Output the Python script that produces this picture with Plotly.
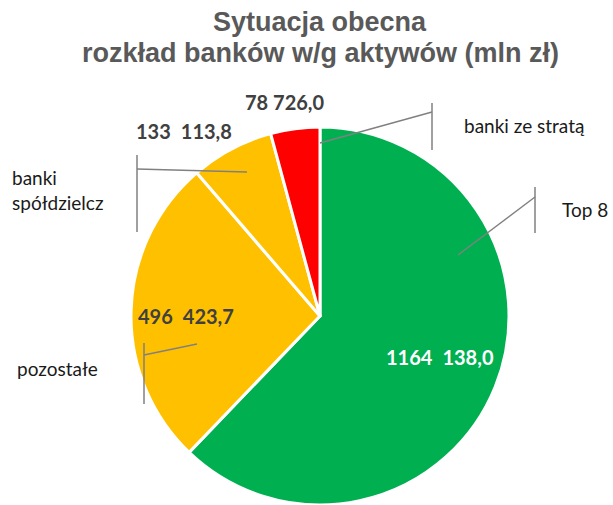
import plotly.graph_objects as go

categories = ["Top 8", "pozostałe", "banki spółdzielcz", "banki ze stratą"]
values = [1164138.0, 496423.7, 133113.8, 78726.0]
value_labels = ["1164\u2002138,0", "496\u2002423,7", "133\u2002113,8", "78 726,0"]
colors = ["#00B050", "#FFC000", "#FFC000", "#FF0000"]
title_lines = ["Sytuacja obecna", "rozkład banków w/g aktywów (mln zł)"]

W, H = 613, 505


def px(x):
    return x / W


def py(y):
    return 1 - y / H


fig = go.Figure(go.Pie(
    labels=categories,
    values=values,
    sort=False,
    direction="clockwise",
    rotation=0,
    marker=dict(colors=colors, line=dict(color="white", width=3)),
    textinfo="none",
    hoverinfo="label+value",
    domain=dict(x=[px(131), px(509)], y=[0, py(127)]),
    showlegend=False,
))

# value labels (x, y, colour) in pixels
val_pos = [(440, 357, "white"), (186, 316, "#404040"), (184, 131, "#404040"), (285, 102, "#404040")]
# category labels
cat_pos = [(560, 210, "Top 8"), (15, 368, "pozostałe"),
           (10, 190, "banki<br>spółdzielcz"), (462, 125, "banki ze stratą")]
# leader lines: slice point, elbow, bracket top/bottom
leaders = [
    ((458, 255), (535, 197), (535, 187, 233)),
    ((197, 344), (144, 355), (144, 343, 404)),
    ((247, 172), (137, 169), (137, 155, 232)),
    ((320, 143), (432, 112), (432, 103, 150)),
]

annotations = []
for txt, (x, y, c) in zip(value_labels, val_pos):
    annotations.append(dict(x=px(x), y=py(y), xref="paper", yref="paper", text=txt,
                            showarrow=False, xanchor="center", yanchor="middle",
                            font=dict(family="Lato", size=20, color=c, weight="bold")))
for x, y, txt in cat_pos:
    annotations.append(dict(x=px(x), y=py(y), xref="paper", yref="paper", text=txt,
                            showarrow=False, xanchor="left", yanchor="middle", align="left",
                            font=dict(family="Lato", size=19, color="#1a1a1a")))

for txt, y in zip(title_lines, [22, 53]):
    annotations.append(dict(x=px(320), y=py(y), xref="paper", yref="paper", text=txt,
                            showarrow=False, xanchor="center", yanchor="middle",
                            font=dict(family="Liberation Sans", size=27, color="#595959", weight="bold")))

shapes = []
line = dict(color="#808080", width=1.5)
for (x0, y0), (x1, y1), (bx, by0, by1) in leaders:
    shapes.append(dict(type="line", xref="paper", yref="paper",
                       x0=px(x0), y0=py(y0), x1=px(x1), y1=py(y1), line=line))
    shapes.append(dict(type="line", xref="paper", yref="paper",
                       x0=px(bx), y0=py(by0), x1=px(bx), y1=py(by1), line=line))

fig.update_layout(
    width=W, height=H,
    margin=dict(l=0, r=0, t=0, b=0),
    paper_bgcolor="white",
    annotations=annotations,
    shapes=shapes,
)

fig.write_html("out.html", config={"displayModeBar": False},
               post_script="document.body.style.margin='0';")
